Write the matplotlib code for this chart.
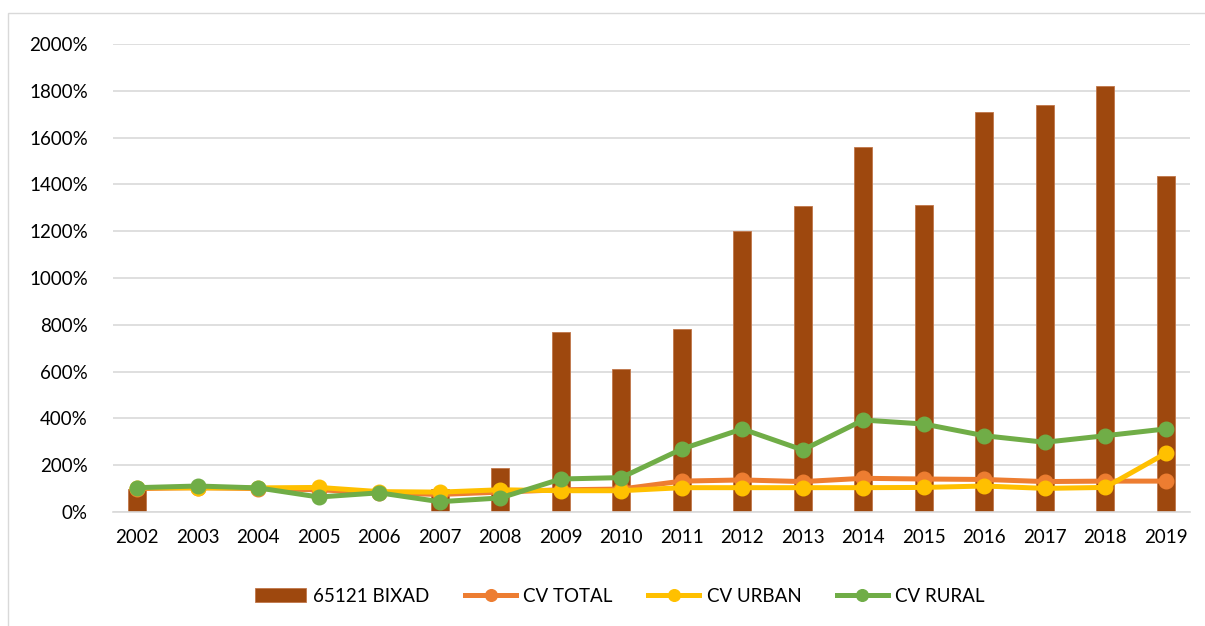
import numpy as np
import matplotlib.pyplot as plt
from matplotlib.patches import Rectangle

years = ['2002', '2003', '2004', '2005', '2006', '2007', '2008', '2009', '2010',
         '2011', '2012', '2013', '2014', '2015', '2016', '2017', '2018', '2019']
bixad = [100, 0, 0, 0, 0, 100, 188, 769, 611, 782, 1200, 1308, 1560, 1312,
         1709, 1739, 1821, 1436]
cv_total = [100, 104, 100, 95, 82, 75, 85, 95, 98, 132, 137, 130, 144, 141,
            139, 130, 132, 132]
cv_urban = [104, 103, 103, 105, 87, 85, 95, 91, 91, 104, 104, 104, 104, 105,
            111, 101, 105, 251]
cv_rural = [104, 111, 103, 64, 82, 44, 60, 141, 147, 269, 355, 265, 393, 376,
            326, 298, 326, 355]
yticks = [0, 200, 400, 600, 800, 1000, 1200, 1400, 1600, 1800, 2000]

plt.rcParams['font.family'] = ['Lato', 'DejaVu Sans']

W, H = 1205, 626
fig = plt.figure(figsize=(W / 100, H / 100), dpi=100)
ax = fig.add_axes([113 / W, (H - 512) / H, (1190 - 113) / W, (512 - 44) / H])

# chart border
fig.patches.append(Rectangle((8 / W, -0.1), 1.2, (H - 13) / H + 0.1,
                             transform=fig.transFigure, fill=False,
                             edgecolor='#D9D9D9', lw=1))

x = np.arange(len(years))
b = ax.bar(x, bixad, width=0.3, color='#9E480E', edgecolor='#C0764A', lw=0.6,
           label='65121 BIXAD', zorder=2)
l1, = ax.plot(x, cv_total, color='#ED7D31', lw=3.6, marker='o', ms=10.5,
              label='CV TOTAL', zorder=3)
l2, = ax.plot(x, cv_urban, color='#FFC000', lw=3.6, marker='o', ms=10.5,
              label='CV URBAN', zorder=4)
l3, = ax.plot(x, cv_rural, color='#70AD47', lw=3.6, marker='o', ms=10.5,
              label='CV RURAL', zorder=5)

ax.set_xlim(-0.4, len(years) - 0.6)
ax.set_ylim(0, 2000)
ax.set_yticks(yticks)
ax.set_yticklabels([f'{v}%' for v in yticks])
ax.set_xticks(x)
ax.set_xticklabels(years)
ax.grid(axis='y', color='#D9D9D9', lw=1.2, zorder=0)
ax.set_axisbelow(True)
for s in ['top', 'right', 'left']:
    ax.spines[s].set_visible(False)
ax.spines['bottom'].set_color('#D9D9D9')
ax.spines['bottom'].set_linewidth(1.2)
ax.tick_params(length=0, labelsize=13.5, colors='black')
ax.tick_params(axis='x', pad=12)
ax.tick_params(axis='y', pad=18)

fig.legend([b, l1, l2, l3], ['65121 BIXAD', 'CV TOTAL', 'CV URBAN', 'CV RURAL'],
           loc='center', bbox_to_anchor=(620 / W, 1 - 596 / H), ncol=4,
           frameon=False, fontsize=13.5, columnspacing=1.9, handlelength=2.7,
           handletextpad=0.4, markerscale=0.8)

fig.savefig('out.png', dpi=100)
